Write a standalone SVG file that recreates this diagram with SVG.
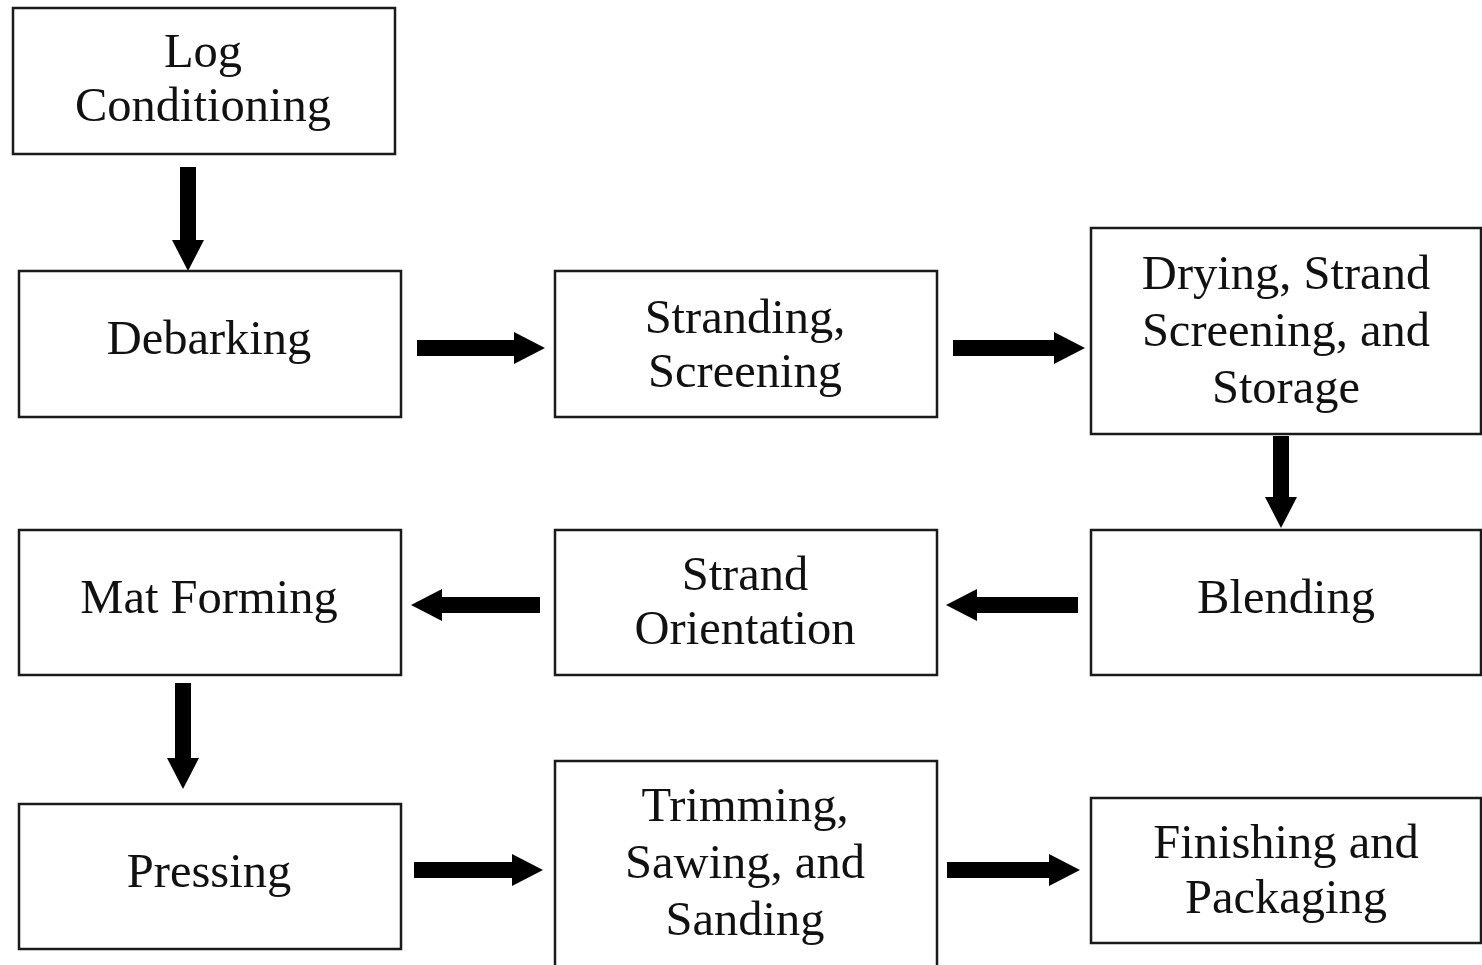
<svg xmlns="http://www.w3.org/2000/svg" width="1482" height="965" viewBox="0 0 1482 965">
<style>
.box{fill:#fff;stroke:#1a1a1a;stroke-width:2.5}
.lbl{font-family:"Liberation Serif","Times New Roman",serif;font-size:48.5px;fill:#111;text-anchor:middle}
.conn{stroke:#000;stroke-width:16;fill:none}
</style>
<defs>
<marker id="ah" markerUnits="userSpaceOnUse" viewBox="0 0 31 32" markerWidth="31" markerHeight="32" refX="0" refY="16" orient="auto">
<path d="M0,0 L31,16 L0,32 z" fill="#000"/>
</marker>
</defs>
<rect width="1482" height="965" fill="#fff"/>
<g id="connectors">
<line class="conn" x1="188" y1="167" x2="188" y2="240" marker-end="url(#ah)"/>
<line class="conn" x1="417" y1="348" x2="514" y2="348" marker-end="url(#ah)"/>
<line class="conn" x1="953" y1="348" x2="1054" y2="348" marker-end="url(#ah)"/>
<line class="conn" x1="1281" y1="436" x2="1281" y2="497" marker-end="url(#ah)"/>
<line class="conn" x1="1078" y1="605" x2="977" y2="605" marker-end="url(#ah)"/>
<line class="conn" x1="540" y1="605" x2="442" y2="605" marker-end="url(#ah)"/>
<line class="conn" x1="183" y1="683" x2="183" y2="758" marker-end="url(#ah)"/>
<line class="conn" x1="414" y1="870" x2="512" y2="870" marker-end="url(#ah)"/>
<line class="conn" x1="947" y1="870" x2="1049" y2="870" marker-end="url(#ah)"/>
</g>
<g id="log-conditioning">
<rect class="box" x="13" y="8" width="382" height="146"/>
<text class="lbl" x="203" y="67">Log</text>
<text class="lbl" x="203" y="121">Conditioning</text>
</g>
<g id="debarking">
<rect class="box" x="19" y="271" width="382" height="146"/>
<text class="lbl" x="209" y="354">Debarking</text>
</g>
<g id="stranding">
<rect class="box" x="555" y="271" width="382" height="146"/>
<text class="lbl" x="745" y="333">Stranding,</text>
<text class="lbl" x="745" y="387">Screening</text>
</g>
<g id="drying">
<rect class="box" x="1091" y="228" width="390" height="206"/>
<text class="lbl" x="1286" y="289">Drying, Strand</text>
<text class="lbl" x="1286" y="346">Screening, and</text>
<text class="lbl" x="1286" y="403">Storage</text>
</g>
<g id="blending">
<rect class="box" x="1091" y="530" width="390" height="145"/>
<text class="lbl" x="1286" y="613">Blending</text>
</g>
<g id="strand-orientation">
<rect class="box" x="555" y="530" width="382" height="145"/>
<text class="lbl" x="745" y="590">Strand</text>
<text class="lbl" x="745" y="644">Orientation</text>
</g>
<g id="mat-forming">
<rect class="box" x="19" y="530" width="382" height="145"/>
<text class="lbl" x="209" y="613">Mat Forming</text>
</g>
<g id="pressing">
<rect class="box" x="19" y="804" width="382" height="145"/>
<text class="lbl" x="209" y="887">Pressing</text>
</g>
<g id="trimming">
<rect class="box" x="555" y="761" width="382" height="215"/>
<text class="lbl" x="745" y="821">Trimming,</text>
<text class="lbl" x="745" y="878">Sawing, and</text>
<text class="lbl" x="745" y="935">Sanding</text>
</g>
<g id="finishing">
<rect class="box" x="1091" y="798" width="390" height="145"/>
<text class="lbl" x="1286" y="858">Finishing and</text>
<text class="lbl" x="1286" y="913">Packaging</text>
</g>
</svg>
